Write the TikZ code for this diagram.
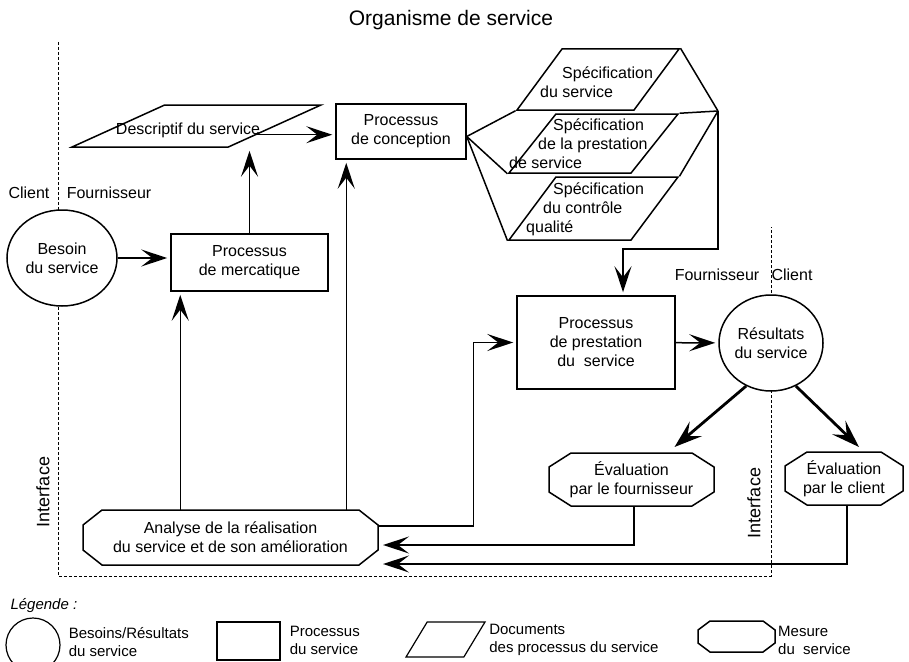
\documentclass[tikz,border=0pt]{standalone}
\usepackage{fontspec}
\setmainfont{Liberation Sans}
\usetikzlibrary{shapes.geometric,arrows.meta,calc,positioning}

\tikzset{
	proc/.style={draw,line width=1.5pt,rectangle,align=center,inner sep=0pt},
	need/.style={draw,line width=1.5pt,ellipse,fill=white,align=center,inner sep=0pt},
	doc/.style={draw,line width=1.5pt,trapezium,trapezium left angle=58,trapezium right angle=122,trapezium stretches=true,inner sep=1pt},
	measure/.style 2 args={rectangle,align=center,inner sep=0pt,outer sep=0pt,
		append after command={\pgfextra{\draw[line width=1.5pt]
			([xshift=#1]\tikzlastnode.north west) -- ([xshift=-#1]\tikzlastnode.north east)
			-- ([yshift=-#2]\tikzlastnode.north east) -- ([yshift=#2]\tikzlastnode.south east)
			-- ([xshift=-#1]\tikzlastnode.south east) -- ([xshift=#1]\tikzlastnode.south west)
			-- ([yshift=#2]\tikzlastnode.south west) -- ([yshift=-#2]\tikzlastnode.north west) -- cycle;}}},
	doctext/.style={align=left,anchor=west,inner sep=0pt},
	legtext/.style={align=left,anchor=west,inner sep=0pt,font=\fontsize{15}{18}\selectfont},
	arr/.style={line width=1.5pt,-{Stealth[length=26pt,width=17pt,inset=11pt]},shorten >=3pt},
	bigarr/.style={line width=2.8pt,-{Stealth[length=28pt,width=19pt,inset=11pt]}},
	link/.style={line width=1.5pt},
	bound/.style={line width=0.9pt,dash pattern=on 3pt off 2pt}
}

\begin{document}
\begin{tikzpicture}[x=1pt,y=1pt,font=\fontsize{16}{19}\selectfont]
	\useasboundingbox (0,0) rectangle (909,-661);
	\clip (0,0) rectangle (909,-661);
	\node (title) at (451,-20) {\fontsize{21}{24}\selectfont Organisme de service};
	\draw[bound] (58,-42) |- (771,-576) -- (771,-227);
	\node (cl1) at (29,-193) {Client};
	\node (fo1) at (109,-193) {Fournisseur};
	\node (fo2) at (717,-275) {Fournisseur};
	\node (cl2) at (792,-275) {Client};
	\node[rotate=90,font=\fontsize{18}{20}\selectfont] (itf1) at (43,-492) {Interface};
	\node[rotate=90,font=\fontsize{18}{20}\selectfont] (itf2) at (754,-503) {Interface};

	\node[need,minimum width=110pt,minimum height=96pt] (besoin) at (62,-258) {Besoin\\du service};
	\node[proc,minimum width=157pt,minimum height=57pt] (merc) at (249.5,-262.5) {Processus\\de mercatique};
	\node[doc,trapezium left angle=34.5,trapezium right angle=145.5,minimum width=249pt,minimum height=42pt] (desc) at (196.5,-126) {};
	\node (desctxt) at ([xshift=-8.5pt,yshift=-4pt]desc.center) {Descriptif du service};
	\node[proc,minimum width=130pt,minimum height=55pt] (conc) at (401,-131.5) {Processus\\de conception};
	\node[doc,minimum width=162pt,minimum height=61pt] (spec1) at (598,-79.5) {};
	\node[doc,minimum width=169pt,minimum height=59pt] (spec2) at (593.5,-143.5) {};
	\node[doc,minimum width=169pt,minimum height=63pt] (spec3) at (593.5,-208.5) {};
	\node[doctext] (spec1txt) at (540,-82) {\hspace*{22pt}Spécification\\du service};
	\node[doctext] (spec2txt) at (509,-144) {\hspace*{44pt}Spécification\\\hspace*{29pt}de la prestation\\de service};
	\node[doctext] (spec3txt) at (526,-209) {\hspace*{27pt}Spécification\\\hspace*{17pt}du contrôle\\qualité};
	\coordinate (conv) at (718,-111);
	\node[proc,minimum width=158pt,minimum height=93pt] (prest) at (596,-342.5) {Processus\\de prestation\\du\ \ service};
	\node[need,minimum width=104pt,minimum height=96pt] (res) at (771,-343) {Résultats\\du service};
	\node[measure={19pt}{15pt},minimum width=295pt,minimum height=55pt] (ana) at (230.5,-537.5) {Analyse de la réalisation\\du service et de son amélioration};
	\node[measure={22pt}{14pt},minimum width=165pt,minimum height=53pt] (evf) at (631.5,-479.5) {Évaluation\\par le fournisseur};
	\node[measure={22pt}{14pt},minimum width=118pt,minimum height=53pt] (evc) at (844,-478.5) {Évaluation\\par le client};

	\coordinate (descout) at ($(desc.bottom right corner)!0.3!(desc.top right corner)$);
	\coordinate (mercin) at ([xshift=10pt]merc.south west);
	\coordinate (concin) at ([xshift=11pt]conc.south west);
	\draw[arr] (besoin.east) -- (besoin.east -| merc.west);
	\draw[arr] (merc) -- (merc |- desc.south);
	\draw[arr] (descout) -- (descout -| conc.west);
	\draw[arr] (mercin |- ana.north) -- (mercin);
	\draw[arr] (concin |- ana.north) -- (concin);
	\draw[arr] ([yshift=11.5pt]ana.east) -| ([xshift=-43pt]prest.west) -- (prest.west);
	\draw[arr] (prest) -- (res);
	\foreach \s in {spec1,spec2,spec3}
		\draw[link] ([yshift=-5pt]conc.east) -- (\s.bottom left corner);
	\foreach \s in {spec1,spec2,spec3}
		\draw[link] (\s.top right corner) -- (conv);
	\draw[arr] (conv) -- ++(0,-138) -| ([xshift=27pt]prest.north);
	\draw[bigarr] (res.240) -- ([xshift=43pt,yshift=6pt]evf.north);
	\draw[bigarr] (res.300) -- ([xshift=15pt,yshift=5pt]evc.north);
	\draw[arr,shorten >=5pt] ([xshift=2.5pt]evf.south) |- ([yshift=-7.5pt]ana.east);
	\draw[arr,shorten >=5pt] ([xshift=3pt]evc.south) |- ([yshift=-26.5pt]ana.east);

	\node[anchor=west,font=\itshape\fontsize{15}{18}\selectfont] (legtitle) at (7,-606) {Légende :};
	\node[draw,circle,line width=1.2pt,minimum size=54pt] (lgneed) at (33,-645) {};
	\node[legtext,right=8pt of lgneed,yshift=3pt] (lgneedtxt) {Besoins/Résultats\\du service};
	\node[draw,line width=1.2pt,minimum width=63pt,minimum height=38pt] (lgproc) at (248.5,-641) {};
	\node[legtext,right=9pt of lgproc,yshift=1pt] (lgproctxt) {Processus\\du service};
	\node[doc,line width=1.2pt,trapezium left angle=60,trapezium right angle=120,minimum width=79pt,minimum height=35pt] (lgdoc) at (445.5,-639.5) {};
	\node[legtext,right=14pt of lgdoc] (lgdoctxt) {Documents\\des processus du service};
	\node[measure={12pt}{9pt},minimum width=77pt,minimum height=31pt] (lgmeas) at (736.5,-636.5) {};
	\node[legtext,right=3pt of lgmeas,yshift=-3.5pt] (lgmeastxt) {Mesure\\du\ \ service};
\end{tikzpicture}
\end{document}
